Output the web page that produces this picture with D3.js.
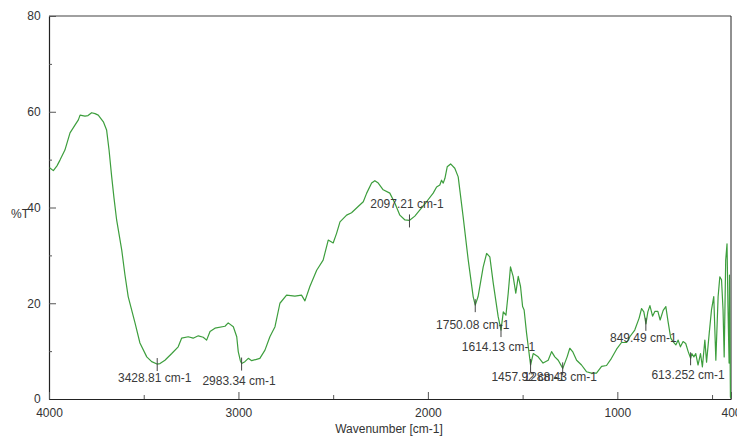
<!DOCTYPE html>
<html>
<head>
<meta charset="utf-8">
<script src="https://cdn.jsdelivr.net/npm/d3@7/dist/d3.min.js"></script>
<style>
  html, body { margin: 0; padding: 0; background: #fff; }
  svg { display: block; font-family: "Liberation Sans", Arial, sans-serif; }
</style>
</head>
<body>
<svg id="chart" width="737" height="436"></svg>
<script>
// ---- data ----
const wavenumber = [3997,3977,3958,3942,3916,3889,3863,3845,3836,3810,3794,3775,3757,3740,3713,3696,3683,3669,3657,3643,3616,3599,3582,3546,3520,3484,3458,3430,3414,3388,3352,3318,3300,3265,3239,3212,3186,3168,3150,3124,3071,3054,3027,3009,3001,2990,2983,2966,2948,2930,2887,2860,2834,2807,2781,2746,2702,2667,2649,2623,2587,2553,2526,2500,2482,2464,2429,2403,2368,2341,2323,2297,2280,2262,2236,2201,2174,2148,2121,2098,2069,2042,2007,1972,1954,1937,1928,1919,1910,1898,1880,1858,1840,1814,1787,1761,1750,1735,1708,1690,1673,1655,1629,1614,1602,1588,1576,1564,1550,1536,1523,1511,1500,1492,1479,1458,1444,1418,1392,1365,1347,1330,1312,1288,1265,1251,1236,1215,1189,1163,1136,1110,1083,1057,1031,1004,978,951,934,908,885,872,860,849,839,828,814,802,786,774,758,744,732,718,706,691,679,667,653,639,626,613,607,596,586,574,561,551,538,529,515,503,491,480,468,459,450,442,436,428,421,416,410,408,403,401];
const transmittance = [48.3,47.7,48.7,49.9,52.0,55.6,57.2,58.3,59.3,59.1,59.2,59.8,59.6,59.3,57.9,56.2,52.0,46.4,42.0,37.4,31.1,25.9,21.4,15.9,11.7,8.8,7.8,7.3,7.4,8.1,9.5,10.9,12.7,13.0,12.7,13.2,12.9,12.3,14.1,14.8,15.2,15.9,15.1,13.0,9.9,8.0,7.4,7.8,8.5,8.0,8.5,10.2,13.0,15.1,20.0,21.7,21.5,21.7,20.5,23.5,26.9,29.0,33.2,32.6,34.6,37.0,38.4,38.9,40.2,41.2,43.0,45.1,45.6,45.1,43.7,43.0,40.9,38.4,37.4,37.3,38.2,39.5,41.2,43.0,44.3,44.7,45.7,45.1,46.1,48.5,49.1,48.2,46.4,38.1,29.0,21.4,19.6,21.4,27.6,30.4,29.7,24.2,17.2,14.4,18.2,17.5,22.1,27.6,25.6,22.1,25.6,23.5,19.3,18.6,13.7,7.1,9.5,8.8,7.5,8.1,9.9,8.8,8.1,6.4,8.8,10.6,9.9,8.1,7.1,5.7,5.4,5.4,6.8,7.0,8.5,10.4,11.8,11.8,13.0,14.4,16.9,18.9,18.2,15.7,18.2,19.5,17.3,18.3,18.3,16.5,18.5,19.3,16.1,12.7,12.0,11.3,12.3,10.9,12.0,11.6,9.9,8.5,9.5,8.8,9.5,7.1,9.5,6.7,12.3,7.7,13.7,18.6,21.4,8.1,21.4,25.5,24.9,18.6,8.8,29.0,32.4,19.3,7.5,25.9,0.4,0.2];

const peakWavenumbers = [3428.81, 2983.34, 2097.21, 1750.08, 1614.13, 1457.92, 1288.43, 849.49, 613.252];
const peakTransmittance = [7.3, 7.4, 37.3, 19.6, 14.4, 7.1, 6.4, 15.7, 8.5];
const peakLabels = ["3428.81 cm-1", "2983.34 cm-1", "2097.21 cm-1", "1750.08 cm-1", "1614.13 cm-1", "1457.92 cm-1", "1288.43 cm-1", "849.49 cm-1", "613.252 cm-1"];

const xTicks = [4000, 3000, 2000, 1000, 400];
const xMinorTicks = [3500, 2500, 1500, 500];
const yTicks = [0, 20, 40, 60, 80];
const yMinorTicks = [10, 30, 50, 70];

// ---- layout ----
const labelDy = [18, 21, -12.5, 24, 21, 16, 13, 18.5, 21];
const margin = { left: 49, right: 6, top: 16, bottom: 37 };
const W = 737, H = 436;
const svg = d3.select("#chart");

const x = d3.scaleLinear().domain([4000, 400]).range([margin.left, W - margin.right]);
const y = d3.scaleLinear().domain([0, 80]).range([H - margin.bottom, margin.top]);

// frame: top and right
svg.append("line").attr("x1", x(4000)).attr("x2", x(400)).attr("y1", y(80)).attr("y2", y(80))
  .attr("stroke", "#808080").attr("stroke-width", 1.5);
svg.append("line").attr("x1", x(400)).attr("x2", x(400)).attr("y1", y(80)).attr("y2", y(0))
  .attr("stroke", "#222").attr("stroke-width", 1);

// axes
const yAxis = svg.append("g").attr("transform", `translate(${margin.left},0)`)
  .call(d3.axisLeft(y).tickValues(yTicks).tickSize(-7).tickSizeOuter(0).tickPadding(12).tickFormat(d3.format("d")));
const yMinor = svg.append("g").attr("transform", `translate(${margin.left},0)`)
  .call(d3.axisLeft(y).tickValues(yMinorTicks).tickSize(-3).tickSizeOuter(0).tickFormat(""));
yMinor.select(".domain").remove();

const xAxis = svg.append("g").attr("transform", `translate(0,${H - margin.bottom})`)
  .call(d3.axisBottom(x).tickValues(xTicks).tickSize(-7).tickSizeOuter(0).tickPadding(9).tickFormat(d3.format("d")));
const xMinor = svg.append("g").attr("transform", `translate(0,${H - margin.bottom})`)
  .call(d3.axisBottom(x).tickValues(xMinorTicks).tickSize(-4).tickSizeOuter(0).tickFormat(""));
xMinor.select(".domain").remove();

svg.selectAll(".domain").attr("stroke", "#222").attr("stroke-width", 1.2);
svg.selectAll(".tick line").attr("stroke", "#555");
svg.selectAll(".tick text").attr("fill", "#333").style("font-size", "12px")
  .style("font-family", "'Liberation Sans', Arial, sans-serif");
yAxis.selectAll(".tick text").attr("dx", "0.3em");

// axis titles
svg.append("text").attr("x", 20).attr("y", 218).attr("text-anchor", "middle")
  .attr("fill", "#333").style("font-size", "12px").text("%T");
svg.append("text").attr("x", 389).attr("y", 433).attr("text-anchor", "middle")
  .attr("fill", "#333").style("font-size", "12px").text("Wavenumber [cm-1]");

// spectrum
const pts = wavenumber.map((w, i) => [w, transmittance[i]]);
const line = d3.line().x(d => x(d[0])).y(d => y(d[1]));
svg.append("path").datum(pts).attr("d", line)
  .attr("fill", "none").attr("stroke", "#3d9e3d").attr("stroke-width", 1.2)
  .attr("stroke-linejoin", "round");

// peak markers
const g = svg.append("g");
peakWavenumbers.forEach((w, i) => {
  const px = x(w), py = y(peakTransmittance[i]);
  g.append("line").attr("x1", px).attr("x2", px).attr("y1", py - 6).attr("y2", py + 7)
    .attr("stroke", "#444").attr("stroke-width", 1);
  g.append("text").attr("x", px - 2.5).attr("y", py + labelDy[i]).attr("text-anchor", "middle")
    .attr("fill", "#3a3a3a").style("font-size", "12px").text(peakLabels[i]);
});
</script>
</body>
</html>
